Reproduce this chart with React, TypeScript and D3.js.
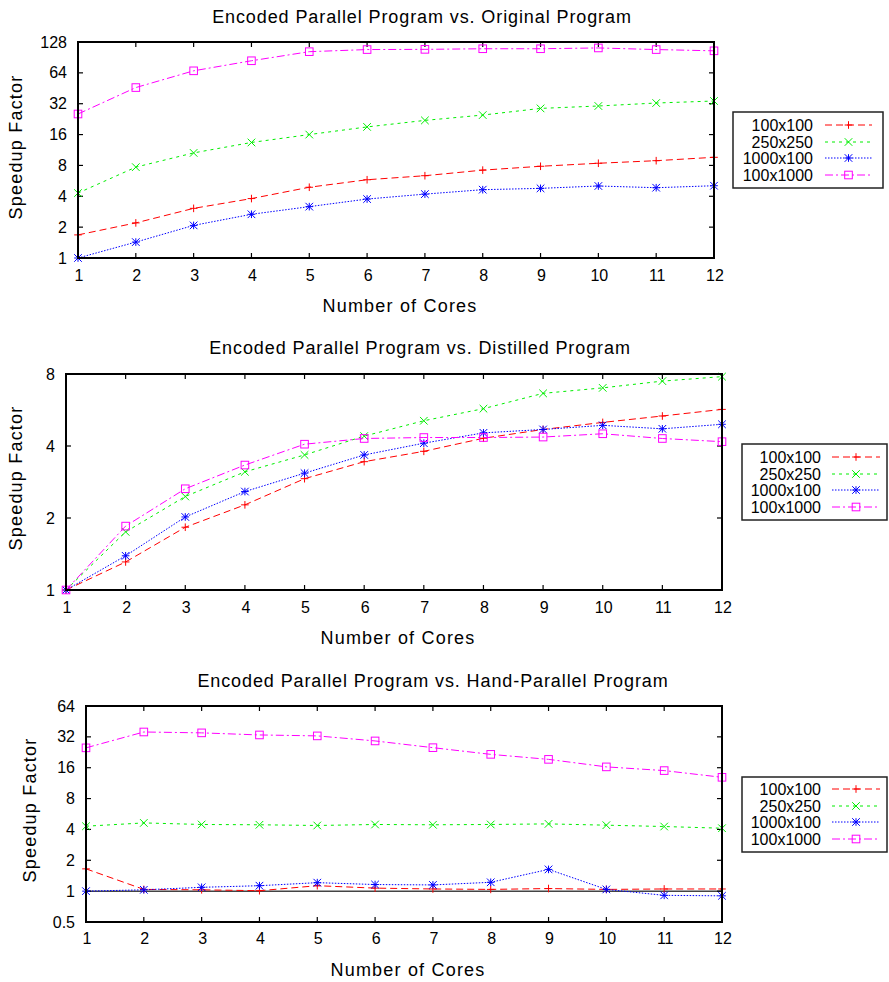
import React, { useEffect, useRef } from 'react'
import * as d3 from 'd3'

// x axis: number of cores
const cores = [1, 2, 3, 4, 5, 6, 7, 8, 9, 10, 11, 12]
const seriesNames = ['100x100', '250x250', '1000x100', '100x1000']

// Encoded parallel vs. original program
const orig100x100 = [1.68, 2.2, 3.05, 3.8, 4.9, 5.8, 6.35, 7.2, 7.85, 8.4, 8.9, 9.6]
const orig250x250 = [4.3, 7.7, 10.6, 13.4, 16, 19, 22, 24.8, 28.8, 30.4, 32.5, 34]
const orig1000x100 = [1.0, 1.43, 2.08, 2.67, 3.17, 3.76, 4.2, 4.64, 4.78, 5.04, 4.85, 5.07]
const orig100x1000 = [25.4, 46, 67, 84, 103, 108, 108.5, 110, 110, 112, 108, 105]
const origTicks = [1, 2, 4, 8, 16, 32, 64, 128]

// Encoded parallel vs. distilled program
const dist100x100 = [1, 1.31, 1.83, 2.27, 2.92, 3.44, 3.8, 4.31, 4.69, 5.02, 5.34, 5.69]
const dist250x250 = [1, 1.75, 2.46, 3.12, 3.67, 4.4, 5.1, 5.73, 6.64, 7.0, 7.47, 7.8]
const dist1000x100 = [1, 1.39, 2.02, 2.58, 3.08, 3.67, 4.11, 4.54, 4.69, 4.88, 4.72, 4.93]
const dist100x1000 = [1, 1.85, 2.65, 3.33, 4.07, 4.3, 4.34, 4.34, 4.36, 4.5, 4.3, 4.17]
const distTicks = [1, 2, 4, 8]

// Encoded parallel vs. hand-parallel program
const hand100x100 = [1.65, 1.04, 1.03, 1.01, 1.13, 1.07, 1.05, 1.04, 1.06, 1.04, 1.05, 1.05]
const hand250x250 = [4.3, 4.63, 4.47, 4.44, 4.37, 4.47, 4.44, 4.47, 4.53, 4.4, 4.27, 4.11]
const hand1000x100 = [1.0, 1.03, 1.09, 1.13, 1.21, 1.16, 1.15, 1.22, 1.63, 1.04, 0.91, 0.9]
const hand100x1000 = [25, 35.7, 35, 33.4, 32.7, 29.2, 25.1, 21.6, 19.3, 16.3, 15.0, 12.9]
const handTicks = [0.5, 1, 2, 4, 8, 16, 32, 64]

const FONT = '"Liberation Sans", Arial, sans-serif'
const colors = ['#ff0000', '#00ee00', '#0000ff', '#ff00ff']
const dashes = ['7,4', '3,4', '1.5,1.5', '8,3,2,3']
const markers = ['plus', 'cross', 'star', 'square']

const drawMarker = (g, type, x, y, color) => {
  const s = 3.8
  const seg = (x1, y1, x2, y2) => g.append('line')
    .attr('x1', x1).attr('y1', y1).attr('x2', x2).attr('y2', y2)
    .attr('stroke', color).attr('stroke-width', 1)
  if (type === 'plus' || type === 'star') {
    seg(x - s, y, x + s, y)
    seg(x, y - s, x, y + s)
  }
  if (type === 'cross' || type === 'star') {
    seg(x - s, y - s, x + s, y + s)
    seg(x - s, y + s, x + s, y - s)
  }
  if (type === 'square') {
    g.append('rect').attr('x', x - s).attr('y', y - s)
      .attr('width', 2 * s).attr('height', 2 * s)
      .attr('fill', 'none').attr('stroke', color).attr('stroke-width', 1)
  }
}

const Panel = ({ title, series, ticks, box, legend, labels }) => {
  const ref = useRef(null)

  useEffect(() => {
    const svg = d3.select(ref.current)
    svg.selectAll('*').remove()

    const x = d3.scaleLinear().domain([1, 12]).range([box.left, box.right])
    const y = d3.scaleLog().base(2)
      .domain([ticks[0], ticks[ticks.length - 1]])
      .range([box.bottom, box.top])

    // title
    svg.append('text')
      .attr('x', labels.titleX).attr('y', labels.titleY)
      .attr('text-anchor', 'middle').attr('dominant-baseline', 'central')
      .attr('font-size', 18).attr('letter-spacing', 0.9)
      .text(title)

    // y = 1 reference line
    svg.append('line')
      .attr('x1', box.left).attr('x2', box.right)
      .attr('y1', y(1)).attr('y2', y(1))
      .attr('stroke', '#444').attr('stroke-width', 1.5)

    // ticks, inward on all sides
    const tickLen = 5
    ticks.forEach(t => {
      svg.append('line').attr('x1', box.left).attr('x2', box.left + tickLen)
        .attr('y1', y(t)).attr('y2', y(t)).attr('stroke', '#000').attr('stroke-width', 1.2)
      svg.append('line').attr('x1', box.right).attr('x2', box.right - tickLen)
        .attr('y1', y(t)).attr('y2', y(t)).attr('stroke', '#000').attr('stroke-width', 1.2)
      svg.append('text')
        .attr('x', box.left - 11).attr('y', y(t))
        .attr('text-anchor', 'end').attr('dominant-baseline', 'central')
        .attr('font-size', 16)
        .text(t)
    })
    cores.forEach(c => {
      svg.append('line').attr('x1', x(c)).attr('x2', x(c))
        .attr('y1', box.bottom).attr('y2', box.bottom - tickLen).attr('stroke', '#000').attr('stroke-width', 1.2)
      svg.append('line').attr('x1', x(c)).attr('x2', x(c))
        .attr('y1', box.top).attr('y2', box.top + tickLen).attr('stroke', '#000').attr('stroke-width', 1.2)
      svg.append('text')
        .attr('x', x(c) + 1).attr('y', labels.xTickY)
        .attr('text-anchor', 'middle').attr('dominant-baseline', 'central')
        .attr('font-size', 16)
        .text(c)
    })

    // series
    const line = d3.line().x((d, i) => x(cores[i])).y(d => y(d))
    series.forEach((values, k) => {
      svg.append('path')
        .datum(values)
        .attr('d', line)
        .attr('fill', 'none')
        .attr('stroke', colors[k])
        .attr('stroke-width', 1)
        .attr('stroke-dasharray', dashes[k])
      const mg = svg.append('g')
      values.forEach((v, i) => drawMarker(mg, markers[k], x(cores[i]), y(v), colors[k]))
    })

    // frame
    svg.append('rect')
      .attr('x', box.left).attr('y', box.top)
      .attr('width', box.right - box.left).attr('height', box.bottom - box.top)
      .attr('fill', 'none').attr('stroke', '#000').attr('stroke-width', 2)

    // axis labels
    svg.append('text')
      .attr('x', (box.left + box.right) / 2 + 4).attr('y', labels.xLabelY)
      .attr('text-anchor', 'middle').attr('dominant-baseline', 'central')
      .attr('font-size', 18).attr('letter-spacing', 1.2)
      .text('Number of Cores')
    svg.append('text')
      .attr('transform', `translate(${labels.yLabelX},${labels.yLabelY}) rotate(-90)`)
      .attr('text-anchor', 'middle').attr('dominant-baseline', 'central')
      .attr('font-size', 18).attr('letter-spacing', 1.2)
      .text('Speedup Factor')

    // legend
    svg.append('rect')
      .attr('x', legend.left).attr('y', legend.top)
      .attr('width', legend.right - legend.left).attr('height', legend.bottom - legend.top)
      .attr('fill', '#fff').attr('stroke', '#222').attr('stroke-width', 1.5)
    seriesNames.forEach((name, k) => {
      const ly = legend.rows[k]
      svg.append('text')
        .attr('x', legend.textRight).attr('y', ly)
        .attr('text-anchor', 'end').attr('dominant-baseline', 'central')
        .attr('font-size', 16)
        .text(name)
      svg.append('line')
        .attr('x1', legend.lineFrom).attr('x2', legend.lineTo)
        .attr('y1', ly).attr('y2', ly)
        .attr('stroke', colors[k]).attr('stroke-width', 1)
        .attr('stroke-dasharray', dashes[k])
      drawMarker(svg.append('g'), markers[k], (legend.lineFrom + legend.lineTo) / 2, ly, colors[k])
    })
  }, [title, series, ticks, box, legend, labels])

  return <g ref={ref} fontFamily={FONT} fill="#000"></g>
}

const App = () => {
  return (
    <svg width={889} height={982} style={{ position: 'absolute', left: 0, top: 0, background: '#fff' }}>
      <Panel
        title="Encoded Parallel Program vs. Original Program"
        series={[orig100x100, orig250x250, orig1000x100, orig100x1000]}
        ticks={origTicks}
        box={{ left: 78, top: 42, right: 714, bottom: 258 }}
        labels={{ titleX: 422, titleY: 17, xTickY: 275, xLabelY: 306, yLabelX: 16, yLabelY: 147 }}
        legend={{ left: 733, right: 883, top: 112, bottom: 188, rows: [125, 142, 158, 175], textRight: 813, lineFrom: 825, lineTo: 872 }}
      />
      <Panel
        title="Encoded Parallel Program vs. Distilled Program"
        series={[dist100x100, dist250x250, dist1000x100, dist100x1000]}
        ticks={distTicks}
        box={{ left: 66, top: 374, right: 722, bottom: 590 }}
        labels={{ titleX: 420, titleY: 348, xTickY: 607, xLabelY: 638, yLabelX: 16, yLabelY: 478 }}
        legend={{ left: 742, right: 887, top: 444, bottom: 520, rows: [457, 474, 490, 507], textRight: 821, lineFrom: 832, lineTo: 880 }}
      />
      <Panel
        title="Encoded Parallel Program vs. Hand-Parallel Program"
        series={[hand100x100, hand250x250, hand1000x100, hand100x1000]}
        ticks={handTicks}
        box={{ left: 86, top: 706, right: 722, bottom: 922 }}
        labels={{ titleX: 433, titleY: 681, xTickY: 938, xLabelY: 970, yLabelX: 30, yLabelY: 810 }}
        legend={{ left: 742, right: 887, top: 777, bottom: 852, rows: [789, 806, 822, 839], textRight: 821, lineFrom: 832, lineTo: 880 }}
      />
    </svg>
  )
}

export default App
